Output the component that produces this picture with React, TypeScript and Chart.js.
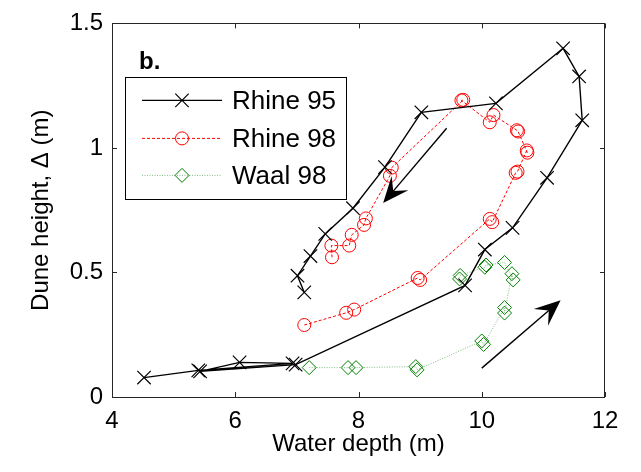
import React, { useEffect, useRef } from "react";
import { Chart, registerables } from "chart.js";
import { drawPoint } from "chart.js/helpers";

Chart.register(...registerables);

// ---- data ----
const seriesNames = ["Rhine 95", "Rhine 98", "Waal 98"];

const rhine95X = [4.52, 5.40, 6.93, 6.07, 5.43, 6.98, 9.73, 10.05, 10.50, 11.06, 11.63, 11.58, 11.32, 10.23, 9.02, 8.43, 7.91, 7.46, 7.22, 7.01, 7.12];
const rhine95Y = [0.078, 0.107, 0.135, 0.139, 0.103, 0.130, 0.448, 0.592, 0.679, 0.880, 1.111, 1.287, 1.400, 1.179, 1.143, 0.923, 0.758, 0.655, 0.566, 0.487, 0.420];

const rhine98X = [7.12, 7.80, 7.93, 8.96, 9.00, 10.13, 10.17, 10.55, 10.58, 10.73, 10.74, 10.59, 10.57, 10.19, 10.13, 9.67, 9.70, 8.54, 8.51, 8.12, 8.09, 7.89, 7.85, 7.56, 7.57];
const rhine98Y = [0.289, 0.338, 0.351, 0.478, 0.470, 0.715, 0.702, 0.900, 0.905, 0.990, 0.981, 1.066, 1.071, 1.132, 1.103, 1.191, 1.193, 0.921, 0.888, 0.717, 0.691, 0.651, 0.608, 0.608, 0.561];

const waal98X = [7.20, 7.83, 7.96, 8.93, 8.95, 10.00, 10.03, 10.37, 10.37, 10.49, 10.51, 10.37, 10.07, 10.05, 9.65, 9.64];
const waal98Y = [0.118, 0.118, 0.118, 0.122, 0.109, 0.225, 0.211, 0.359, 0.337, 0.495, 0.470, 0.540, 0.530, 0.521, 0.488, 0.474];

const xTicks = [4, 6, 8, 10, 12];
const yTicks = [0, 0.5, 1, 1.5];
const yTickLabels = ["0", "0.5", "1", "1.5"];

// annotation arrows (data units): [tailX, tailY, tipX, tipY]
const arrowFalling = [9.43, 1.079, 8.40, 0.779];
const arrowRising = [10.0, 0.116, 11.28, 0.388];

const panelLabel = "b.";
const xTitle = "Water depth (m)";
const yTitle = "Dune height, \u0394 (m)";

const FONT = "'Liberation Sans', Arial, Helvetica, sans-serif";

function toPts(xs: number[], ys: number[]) {
  return xs.map((x, i) => ({ x, y: ys[i] }));
}

function drawArrow(ctx: CanvasRenderingContext2D, x0: number, y0: number, x1: number, y1: number) {
  const dx = x1 - x0, dy = y1 - y0;
  const len = Math.hypot(dx, dy);
  const ux = dx / len, uy = dy / len;
  const nx = -uy, ny = ux;
  const L = 26, W = 11, notch = 0.6;
  ctx.save();
  ctx.strokeStyle = "#000";
  ctx.fillStyle = "#000";
  ctx.lineWidth = 1.4;
  ctx.setLineDash([]);
  ctx.beginPath();
  ctx.moveTo(x0, y0);
  ctx.lineTo(x1 - ux * L * notch, y1 - uy * L * notch);
  ctx.stroke();
  ctx.beginPath();
  ctx.moveTo(x1, y1);
  ctx.lineTo(x1 - ux * L + nx * W, y1 - uy * L + ny * W);
  ctx.lineTo(x1 - ux * L * notch, y1 - uy * L * notch);
  ctx.lineTo(x1 - ux * L - nx * W, y1 - uy * L - ny * W);
  ctx.closePath();
  ctx.fill();
  ctx.restore();
}

const decorPlugin = {
  id: "decor",
  afterDraw(chart: any) {
    const ctx: CanvasRenderingContext2D = chart.ctx;
    const { left, right, top, bottom } = chart.chartArea;
    const xs = chart.scales.x, ys = chart.scales.y;
    ctx.save();
    // box
    ctx.strokeStyle = "#262626";
    ctx.lineWidth = 1;
    ctx.setLineDash([]);
    ctx.strokeRect(Math.round(left) + 0.5, Math.round(top) + 0.5, Math.round(right - left) - 1, Math.round(bottom - top));
    // inward ticks
    const tl = 5;
    ctx.beginPath();
    xTicks.forEach((v) => {
      const px = Math.round(xs.getPixelForValue(v)) + 0.5;
      ctx.moveTo(px, bottom);
      ctx.lineTo(px, bottom - tl);
      ctx.moveTo(px, top);
      ctx.lineTo(px, top + tl);
    });
    yTicks.forEach((v) => {
      const py = Math.round(ys.getPixelForValue(v)) + 0.5;
      ctx.moveTo(left, py);
      ctx.lineTo(left + tl, py);
      ctx.moveTo(right, py);
      ctx.lineTo(right - tl, py);
    });
    ctx.stroke();

    // arrows
    [arrowFalling, arrowRising].forEach((a) => {
      drawArrow(ctx, xs.getPixelForValue(a[0]), ys.getPixelForValue(a[1]), xs.getPixelForValue(a[2]), ys.getPixelForValue(a[3]));
    });

    // panel label
    ctx.fillStyle = "#000";
    ctx.font = `bold 24px ${FONT}`;
    ctx.textAlign = "left";
    ctx.textBaseline = "alphabetic";
    ctx.fillText(panelLabel, left + 27, top + 46);

    // legend
    const bx = left + 13, by = top + 54, bw = 221, bh = 122;
    ctx.fillStyle = "#fff";
    ctx.fillRect(bx, by, bw, bh);
    ctx.strokeStyle = "#000";
    ctx.lineWidth = 1;
    ctx.strokeRect(Math.round(bx) + 0.5, Math.round(by) + 0.5, bw, bh);
    const rowY = [by + 23, by + 61, by + 98];
    chart.data.datasets.forEach((ds: any, i: number) => {
      const y = rowY[i];
      ctx.save();
      ctx.strokeStyle = ds.borderColor;
      ctx.lineWidth = ds.borderWidth;
      ctx.setLineDash(ds.borderDash || []);
      ctx.beginPath();
      ctx.moveTo(bx + 17, y);
      ctx.lineTo(bx + 97, y);
      ctx.stroke();
      ctx.setLineDash([]);
      ctx.strokeStyle = ds.pointBorderColor;
      ctx.fillStyle = "rgba(0,0,0,0)";
      ctx.lineWidth = ds.pointBorderWidth;
      drawPoint(ctx, { pointStyle: ds.pointStyle, radius: ds.pointRadius, rotation: 0, borderWidth: ds.pointBorderWidth } as any, bx + 57, y);
      ctx.restore();
      ctx.fillStyle = "#000";
      ctx.font = `26px ${FONT}`;
      ctx.textAlign = "left";
      ctx.textBaseline = "middle";
      ctx.fillText(ds.label, bx + 107, y + 1);
    });
    ctx.restore();
  },
};

export default function App() {
  const ref = useRef<HTMLCanvasElement | null>(null);
  useEffect(() => {
    if (!ref.current) return;
    Chart.defaults.font.family = FONT;
    const chart = new Chart(ref.current, {
      type: "scatter",
      data: {
        datasets: [
          {
            label: seriesNames[0],
            data: toPts(rhine95X, rhine95Y),
            showLine: true,
            borderColor: "#000000",
            borderWidth: 1.4,
            pointStyle: "crossRot",
            pointRadius: 9.5,
            pointBorderWidth: 1.2,
            pointBorderColor: "#000000",
            pointBackgroundColor: "rgba(0,0,0,0)",
            tension: 0,
          } as any,
          {
            label: seriesNames[1],
            data: toPts(rhine98X, rhine98Y),
            showLine: true,
            borderColor: "#ff0000",
            borderWidth: 1,
            borderDash: [3, 2],
            pointStyle: "circle",
            pointRadius: 6.5,
            pointBorderWidth: 1,
            pointBorderColor: "#ff0000",
            pointBackgroundColor: "rgba(0,0,0,0)",
            tension: 0,
          } as any,
          {
            label: seriesNames[2],
            data: toPts(waal98X, waal98Y),
            showLine: true,
            borderColor: "rgba(0,128,0,0.5)",
            borderWidth: 1,
            borderDash: [1, 1.5],
            pointStyle: "rectRot",
            pointRadius: 7,
            pointBorderWidth: 1,
            pointBorderColor: "#008000",
            pointBackgroundColor: "rgba(0,0,0,0)",
            tension: 0,
          } as any,
        ],
      },
      options: {
        responsive: false,
        animation: false,
        devicePixelRatio: 1,
        layout: { padding: { left: 0, top: 17, right: 36, bottom: 0 } },
        plugins: { legend: { display: false }, tooltip: { enabled: false } },
        events: [],
        scales: {
          x: {
            type: "linear",
            position: "bottom",
            min: 4,
            max: 12,
            afterBuildTicks: (s: any) => {
              s.ticks = xTicks.map((v) => ({ value: v }));
            },
            ticks: { font: { size: 24, family: FONT }, color: "#000", padding: 10, maxRotation: 0 },
            grid: { display: false, drawTicks: false },
            border: { display: false },
            title: { display: true, text: xTitle, font: { size: 24, family: FONT }, color: "#000", padding: { top: 0, bottom: 13 } },
            afterFit: (s: any) => {
              s.height = 75;
            },
          },
          y: {
            type: "linear",
            min: 0,
            max: 1.5,
            afterBuildTicks: (s: any) => {
              s.ticks = yTicks.map((v) => ({ value: v }));
            },
            ticks: {
              font: { size: 24, family: FONT },
              color: "#000",
              padding: 9,
              callback: (v: any) => {
                const i = yTicks.indexOf(Number(v));
                return i >= 0 ? yTickLabels[i] : "";
              },
            },
            grid: { display: false, drawTicks: false },
            border: { display: false },
            title: { display: true, text: yTitle, font: { size: 24, family: FONT }, color: "#000", padding: { top: 27, bottom: 0 } },
            afterFit: (s: any) => {
              s.width = 112;
            },
          },
        },
      } as any,
      plugins: [decorPlugin],
    });
    return () => chart.destroy();
  }, []);
  return (
    <div style={{ position: "fixed", left: 0, top: 0, width: 641, height: 472, background: "#fff" }}>
      <canvas ref={ref} width={641} height={472} style={{ width: 641, height: 472, display: "block" }} />
    </div>
  );
}
